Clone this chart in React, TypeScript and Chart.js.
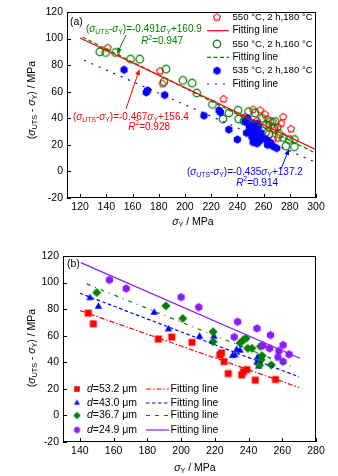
import { useEffect, useRef } from "react";
import { Chart, registerables } from "chart.js";
Chart.register(...registerables);

const FONT = "'Liberation Sans', Arial, Helvetica, sans-serif";
const RED = "#ff0000";
const GREEN = "#008000";
const BLUE = "#0000ff";
const PURPLE = "#8a1aff";

// ---------------- Panel (a) data: [yield strength, (UTS - YS)] ----------------
const aRed180: number[][] = [
  [141, 93], [181, 75.5], [183, 66], [229.5, 54.5], [246, 41], [252, 46.5], [255, 38],
  [257.5, 46], [261, 43], [263, 39.5], [267, 37.5], [271, 33.5], [273.5, 36], [281, 32],
  [268.5, 31], [267, 24], [271, 25], [262, 29], [275, 41], [264, 35],
];
const aGreen160: number[][] = [
  [135, 90], [139.5, 89.5], [147, 89.5], [158.5, 84.5], [165.5, 84.5], [184, 67.5], [185.5, 77],
  [198.5, 68.5], [205.5, 66.5], [209, 59], [221, 50.5], [229, 39.5], [233.5, 44], [240.5, 46],
  [241, 39.5], [245, 38], [248.5, 45], [253.5, 44], [262, 35], [265, 37.5], [269, 37.5],
  [268, 32.5], [275, 25.5], [279.5, 24], [283.5, 24], [277, 19], [283.5, 18.5], [259, 40],
  [264, 28], [272, 28],
];
const aBlue535: number[][] = [
  [153.5, 76.5], [170.5, 59.5], [171.5, 61], [184.5, 57.5], [214.5, 42], [227, 44.5], [226, 46],
  [233.5, 31.5], [240, 24], [246, 37.5], [247, 29], [249, 34], [250, 30], [251, 26], [252, 36],
  [252, 22], [253, 28], [254, 32], [254, 24], [255, 21], [256, 27], [256, 34], [257, 23],
  [258, 29], [259, 25], [262, 24], [263, 20], [265, 22], [267, 19], [270, 17.5], [248, 40], [255, 36],
];
const aRedFit: number[][] = [[120, 100.4], [300, 16.3]];
const aGreenFit: number[][] = [[122, 101], [300, 13.6]];
const aBlueFit: number[][] = [[123, 83.7], [298, 7.6]];
const aSeriesLabels = ["550 °C, 2 h,180 °C", "550 °C, 2 h,160 °C", "535 °C, 2 h,180 °C"];
const aSlopes = ["-0.467", "-0.491", "-0.435"];
const aIntercepts = ["+156.4", "+160.9", "+137.2"];
const aR2 = ["0.928", "0.947", "0.914"];

// ---------------- Panel (b) data ----------------
const bRed532: number[][] = [
  [145, 77], [148, 69], [186.5, 57.5], [194.5, 59], [206.5, 55], [223, 45.5], [224, 47],
  [225.5, 40.5], [228, 31.5], [236, 30.5], [237, 33], [239, 34.5], [244, 26.5], [256, 27],
];
const bBlue430: number[][] = [
  [146, 88.5], [151, 82], [184, 77.5], [192.5, 65], [211, 59.5], [219.5, 59.5], [230.5, 45],
  [232, 45.5], [233, 49.5], [235, 49], [245.5, 44], [246, 37], [245, 40],
];
const bGreen367: number[][] = [
  [150, 92.5], [191, 82.5], [201, 73], [219, 63], [219, 55.5], [235, 54.5], [237, 57],
  [238.5, 58], [239.5, 50.5], [242, 50.5], [247, 52], [248, 45], [247.5, 42], [246.5, 38], [253.5, 38],
];
const bPurple249: number[][] = [
  [157.5, 102], [167.5, 95.5], [200, 89], [210.5, 81.5], [231.5, 59], [233.5, 70.5], [245, 65.5],
  [248.5, 52.5], [252.5, 50.5], [253, 60.5], [258, 48.5], [260.5, 53], [257.5, 44], [260.5, 40.5], [264, 46],
];
const bRedFit: number[][] = [[140, 79], [270, 21]];
const bBlueFit: number[][] = [[140, 92], [270, 29]];
const bGreenFit: number[][] = [[144, 99], [265, 37]];
const bPurpleFit: number[][] = [[140.5, 115], [270.5, 43]];
const bGrainSizes = ["53.2", "43.0", "36.7", "24.9"];

// ---------------- helpers ----------------
type Shape = "pent" | "circle" | "hex" | "square" | "tri" | "diamond";

function polygon(g: CanvasRenderingContext2D, n: number, r: number, rot: number) {
  g.beginPath();
  for (let i = 0; i < n; i++) {
    const a = rot + (i * 2 * Math.PI) / n;
    const px = r * Math.cos(a);
    const py = r * Math.sin(a);
    if (i) g.lineTo(px, py);
    else g.moveTo(px, py);
  }
  g.closePath();
}

function shapePath(g: CanvasRenderingContext2D, shape: Shape, r: number) {
  switch (shape) {
    case "pent": polygon(g, 5, r, -Math.PI / 2); break;
    case "circle": g.beginPath(); g.arc(0, 0, r, 0, 2 * Math.PI); break;
    case "hex": polygon(g, 6, r, -Math.PI / 2); break;
    case "square": g.beginPath(); g.rect(-r, -r, 2 * r, 2 * r); break;
    case "tri": polygon(g, 3, r, -Math.PI / 2); break;
    case "diamond": polygon(g, 4, r, -Math.PI / 2); break;
  }
}

function makeMarker(shape: Shape, r: number, color: string, filled: boolean, lw = 1.1) {
  const s = Math.ceil(2 * r + 2 * lw + 2);
  const c = document.createElement("canvas");
  c.width = s;
  c.height = s;
  const g = c.getContext("2d")!;
  g.translate(s / 2, s / 2);
  shapePath(g, shape, r);
  if (filled) {
    g.fillStyle = color;
    g.fill();
  } else {
    g.strokeStyle = color;
    g.lineWidth = lw;
    g.stroke();
  }
  return c;
}

type Seg = { t: string; k?: "i" | "s" | "p" };
function segFont(k: Seg["k"], size: number) {
  if (k === "i") return { font: `italic ${size}px ${FONT}`, dy: 0 };
  if (k === "s") return { font: `${size * 0.68}px ${FONT}`, dy: size * 0.32 };
  if (k === "p") return { font: `${size * 0.68}px ${FONT}`, dy: -size * 0.36 };
  return { font: `${size}px ${FONT}`, dy: 0 };
}
function richWidth(ctx: CanvasRenderingContext2D, segs: Seg[], size: number) {
  let w = 0;
  for (const s of segs) {
    ctx.font = segFont(s.k, size).font;
    w += ctx.measureText(s.t).width;
  }
  return w;
}
function drawRich(
  ctx: CanvasRenderingContext2D, segs: Seg[], x: number, y: number, size: number,
  color: string, align: "left" | "center" | "right" = "left",
) {
  ctx.save();
  ctx.fillStyle = color;
  ctx.textBaseline = "middle";
  ctx.textAlign = "left";
  const w = richWidth(ctx, segs, size);
  let cx = align === "left" ? x : align === "center" ? x - w / 2 : x - w;
  for (const s of segs) {
    const f = segFont(s.k, size);
    ctx.font = f.font;
    ctx.fillText(s.t, cx, y + f.dy);
    cx += ctx.measureText(s.t).width;
  }
  ctx.restore();
}

function arrow(ctx: CanvasRenderingContext2D, x1: number, y1: number, x2: number, y2: number, color: string) {
  const ang = Math.atan2(y2 - y1, x2 - x1);
  const hl = 6, hw = 2.4;
  ctx.save();
  ctx.strokeStyle = color;
  ctx.fillStyle = color;
  ctx.lineWidth = 1;
  ctx.beginPath();
  ctx.moveTo(x1, y1);
  ctx.lineTo(x2 - Math.cos(ang) * hl * 0.8, y2 - Math.sin(ang) * hl * 0.8);
  ctx.stroke();
  ctx.beginPath();
  ctx.moveTo(x2, y2);
  ctx.lineTo(x2 - Math.cos(ang) * hl + Math.sin(ang) * hw, y2 - Math.sin(ang) * hl - Math.cos(ang) * hw);
  ctx.lineTo(x2 - Math.cos(ang) * hl - Math.sin(ang) * hw, y2 - Math.sin(ang) * hl + Math.cos(ang) * hw);
  ctx.closePath();
  ctx.fill();
  ctx.restore();
}

function legendLine(ctx: CanvasRenderingContext2D, x1: number, x2: number, y: number, color: string, dash: number[]) {
  ctx.save();
  ctx.strokeStyle = color;
  ctx.lineWidth = 1.2;
  ctx.setLineDash(dash);
  ctx.beginPath();
  ctx.moveTo(x1, y);
  ctx.lineTo(x2, y);
  ctx.stroke();
  ctx.restore();
}

function frameAndTicks(chart: any) {
  const ctx = chart.ctx as CanvasRenderingContext2D;
  const { left, top, right, bottom } = chart.chartArea;
  ctx.save();
  ctx.strokeStyle = "#000";
  ctx.lineWidth = 1;
  ctx.strokeRect(Math.round(left) + 0.5, Math.round(top) + 0.5, Math.round(right - left) - 1, Math.round(bottom - top) - 1);
  ctx.beginPath();
  for (const t of chart.scales.x.ticks) {
    const x = Math.round(chart.scales.x.getPixelForValue(t.value)) + 0.5;
    ctx.moveTo(x, bottom);
    ctx.lineTo(x, bottom - 4);
  }
  for (const t of chart.scales.y.ticks) {
    const y = Math.round(chart.scales.y.getPixelForValue(t.value)) + 0.5;
    ctx.moveTo(left, y);
    ctx.lineTo(left + 4, y);
  }
  ctx.stroke();
  ctx.restore();
}

const yTitle: Seg[] = [
  { t: "(" }, { t: "σ", k: "i" }, { t: "UTS", k: "s" }, { t: " - " }, { t: "σ", k: "i" },
  { t: "Y", k: "s" }, { t: ") / MPa" },
];
const xTitle: Seg[] = [{ t: "σ", k: "i" }, { t: "Y", k: "s" }, { t: " / MPa" }];

function eqSegs(slope: string, icpt: string): Seg[] {
  return [
    { t: "(" }, { t: "σ", k: "i" }, { t: "UTS", k: "s" }, { t: "-" }, { t: "σ", k: "i" },
    { t: "Y", k: "s" }, { t: ")=" + slope }, { t: "σ", k: "i" }, { t: "Y", k: "s" }, { t: icpt },
  ];
}
function r2Segs(v: string): Seg[] {
  return [{ t: "R", k: "i" }, { t: "2", k: "p" }, { t: "=" + v }];
}

function pts(a: number[][]) {
  return a.map(([x, y]) => ({ x, y }));
}
function scatterDs(a: number[][], marker: HTMLCanvasElement, order: number) {
  return { data: pts(a), pointStyle: marker, pointRadius: 4, pointHoverRadius: 4, showLine: false, order };
}
function fitDs(a: number[][], color: string, dash: number[]) {
  return {
    data: pts(a), showLine: true, borderColor: color, borderWidth: 1.2, borderDash: dash,
    pointRadius: 0, pointHoverRadius: 0, order: 0, fill: false,
  };
}

function makeScales(xmin: number, xmax: number, yWidth: number, xHeight: number) {
  const tickFont = { family: FONT, size: 10.5 };
  return {
    x: {
      type: "linear", min: xmin, max: xmax,
      ticks: { stepSize: 20, includeBounds: false, color: "#000", font: tickFont, padding: 3, maxRotation: 0, autoSkip: false },
      grid: { display: false, drawTicks: false }, border: { display: false },
      afterFit: (s: any) => { s.height = xHeight; },
    },
    y: {
      type: "linear", min: -20, max: 120,
      ticks: { stepSize: 20, color: "#000", font: tickFont, padding: 4, autoSkip: false },
      grid: { display: false, drawTicks: false }, border: { display: false },
      afterFit: (s: any) => { s.width = yWidth; },
    },
  };
}

function configA(): any {
  const mRed = makeMarker("pent", 3.6, RED, false);
  const mGreen = makeMarker("circle", 3.8, GREEN, false, 1.2);
  const mBlue = makeMarker("hex", 4.2, BLUE, true);
  const plugin = {
    id: "decorA",
    afterDraw(chart: any) {
      const ctx = chart.ctx as CanvasRenderingContext2D;
      frameAndTicks(chart);
      // titles
      drawRich(ctx, xTitle, 193, 222, 10.5, "#000", "center");
      ctx.save();
      ctx.translate(32, 100);
      ctx.rotate(-Math.PI / 2);
      drawRich(ctx, yTitle, 0, 0, 10.5, "#000", "center");
      ctx.restore();
      // panel label
      drawRich(ctx, [{ t: "(a)" }], 70, 22, 10.5, "#000");
      // equations
      drawRich(ctx, eqSegs(aSlopes[1], aIntercepts[1]), 86, 29, 10, GREEN);
      drawRich(ctx, r2Segs(aR2[1]), 183, 41.5, 10, GREEN, "right");
      drawRich(ctx, eqSegs(aSlopes[0], aIntercepts[0]), 73, 117, 10, RED);
      drawRich(ctx, r2Segs(aR2[0]), 170, 127, 10, RED, "right");
      drawRich(ctx, eqSegs(aSlopes[2], aIntercepts[2]), 187, 172, 10, BLUE);
      drawRich(ctx, r2Segs(aR2[2]), 278, 183, 10, BLUE, "right");
      arrow(ctx, 126, 35, 117, 54, GREEN);
      arrow(ctx, 126, 109, 139.5, 69, RED);
      arrow(ctx, 281, 169, 289, 149, BLUE);
      // legend
      const rows = [17.3, 30.7, 44, 57.3, 70.7, 84];
      const markers = [mRed, mGreen, mBlue];
      const colors = [RED, GREEN, BLUE];
      const dashes = [[], [4, 2.5], [2, 6]];
      for (let i = 0; i < 3; i++) {
        const m = markers[i];
        ctx.drawImage(m, 217 - m.width / 2, rows[2 * i] - m.height / 2);
        drawRich(ctx, [{ t: aSeriesLabels[i] }], 232.5, rows[2 * i], 9.6, "#000");
        legendLine(ctx, 207, 229, rows[2 * i + 1], colors[i], dashes[i]);
        drawRich(ctx, [{ t: "Fitting line" }], 232.5, rows[2 * i + 1], 10, "#000");
      }
    },
  };
  return {
    type: "scatter",
    data: {
      datasets: [
        scatterDs(aRed180, mRed, 4),
        scatterDs(aGreen160, mGreen, 3),
        scatterDs(aBlue535, mBlue, 2),
        fitDs(aRedFit, RED, []),
        fitDs(aGreenFit, GREEN, [4, 2.5]),
        fitDs(aBlueFit, BLUE, [2, 6]),
      ],
    },
    options: {
      responsive: false,
      animation: false,
      events: [],
      layout: { padding: { left: 0, right: 22, top: 12, bottom: 0 } },
      plugins: { legend: { display: false }, tooltip: { enabled: false } },
      scales: makeScales(110, 300, 67, 40),
    },
    plugins: [plugin],
  };
}

function configB(): any {
  const mRed = makeMarker("square", 3.5, RED, true);
  const mBlue = makeMarker("tri", 4.3, BLUE, true);
  const mGreen = makeMarker("diamond", 4.6, GREEN, true);
  const mPurple = makeMarker("hex", 4.2, PURPLE, true);
  const lRed = makeMarker("square", 2.8, RED, true);
  const lBlue = makeMarker("tri", 3.4, BLUE, true);
  const lGreen = makeMarker("diamond", 3.8, GREEN, true);
  const lPurple = makeMarker("hex", 3.4, PURPLE, true);
  const plugin = {
    id: "decorB",
    afterDraw(chart: any) {
      const ctx = chart.ctx as CanvasRenderingContext2D;
      frameAndTicks(chart);
      drawRich(ctx, xTitle, 195, 230, 10.5, "#000", "center");
      ctx.save();
      ctx.translate(32, 110);
      ctx.rotate(-Math.PI / 2);
      drawRich(ctx, yTitle, 0, 0, 10.5, "#000", "center");
      ctx.restore();
      drawRich(ctx, [{ t: "(b)" }], 67, 26, 10.5, "#000");
      const rows = [151, 165, 177.5, 192];
      const markers = [lRed, lBlue, lGreen, lPurple];
      const colors = [RED, BLUE, GREEN, PURPLE];
      const dashes = [[5, 2, 1.5, 2], [3.5, 2.5], [4, 5], []];
      for (let i = 0; i < 4; i++) {
        const m = markers[i];
        ctx.drawImage(m, 77 - m.width / 2, rows[i] - m.height / 2);
        drawRich(ctx, [{ t: "d", k: "i" }, { t: "=" + bGrainSizes[i] + " μm" }], 87, rows[i], 10.5, "#000");
        legendLine(ctx, 146, 169, rows[i], colors[i], dashes[i]);
        drawRich(ctx, [{ t: "Fitting line" }], 170.5, rows[i], 10.5, "#000");
      }
    },
  };
  return {
    type: "scatter",
    data: {
      datasets: [
        scatterDs(bRed532, mRed, 5),
        scatterDs(bBlue430, mBlue, 4),
        scatterDs(bGreen367, mGreen, 3),
        scatterDs(bPurple249, mPurple, 2),
        fitDs(bRedFit, RED, [5, 2, 1.5, 2]),
        fitDs(bBlueFit, BLUE, [3.5, 2.5]),
        fitDs(bGreenFit, GREEN, [4, 5, 1, 5]),
        fitDs(bPurpleFit, PURPLE, []),
      ],
    },
    options: {
      responsive: false,
      animation: false,
      events: [],
      layout: { padding: { left: 0, right: 22, top: 18, bottom: 0 } },
      plugins: { legend: { display: false }, tooltip: { enabled: false } },
      scales: makeScales(130, 280, 63, 34),
    },
    plugins: [plugin],
  };
}

export default function App() {
  const aRef = useRef<HTMLCanvasElement>(null);
  const bRef = useRef<HTMLCanvasElement>(null);
  useEffect(() => {
    const ca = new Chart(aRef.current!, configA());
    const cb = new Chart(bRef.current!, configB());
    return () => {
      ca.destroy();
      cb.destroy();
    };
  }, []);
  return (
    <div style={{ position: "absolute", left: 0, top: 0, width: 338, height: 476, background: "#fff" }}>
      <canvas ref={aRef} width={338} height={238} style={{ position: "absolute", left: 0, top: 0, width: 338, height: 238 }} />
      <canvas ref={bRef} width={338} height={238} style={{ position: "absolute", left: 0, top: 238, width: 338, height: 238 }} />
    </div>
  );
}
